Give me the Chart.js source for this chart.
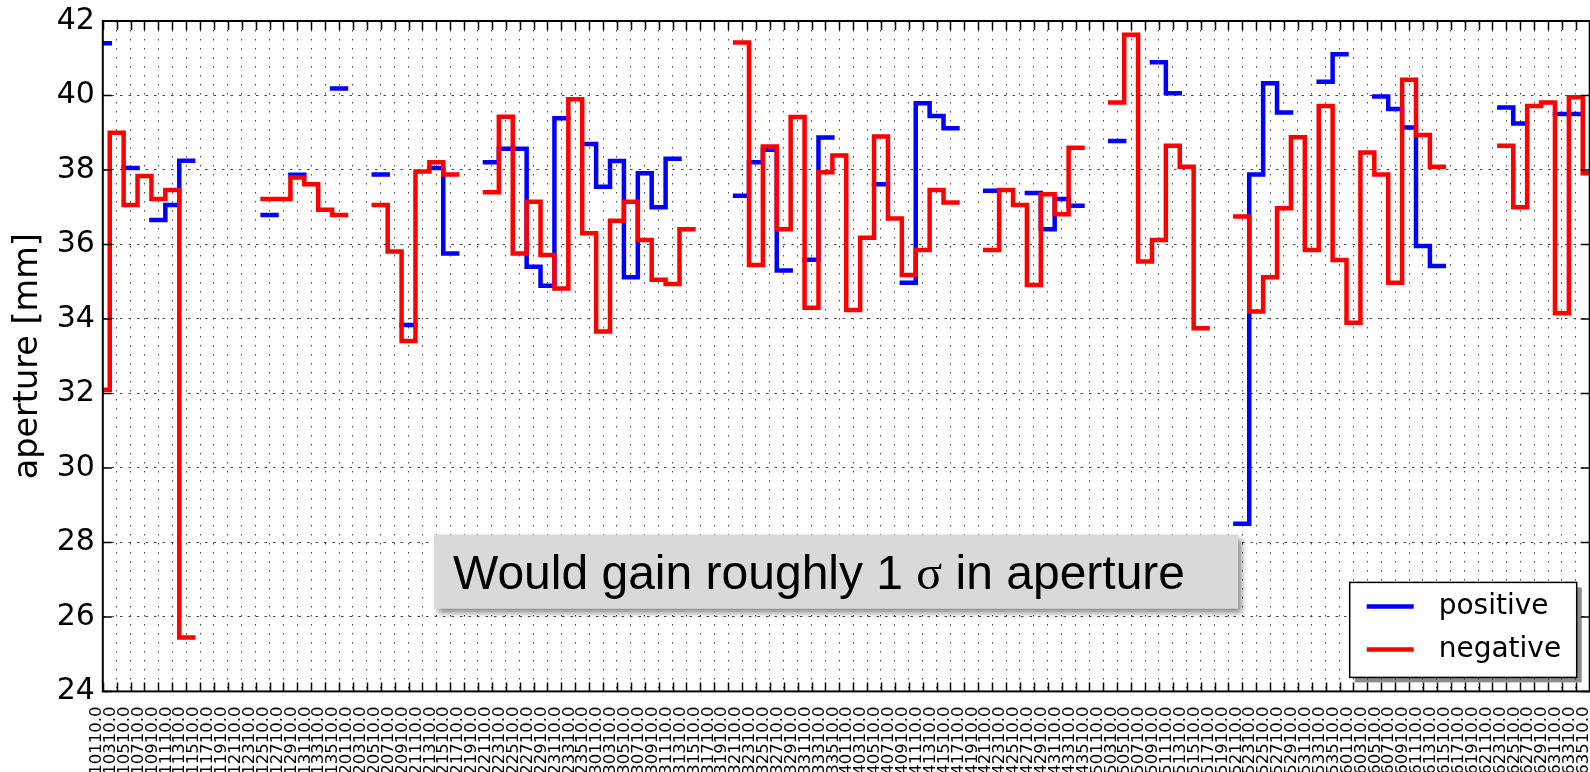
<!DOCTYPE html>
<html>
<head>
<meta charset="utf-8">
<title>aperture</title>
<script src="https://cdn.jsdelivr.net/npm/chart.js@4/dist/chart.umd.min.js"></script>
<style>
  html, body { margin: 0; padding: 0; background: #fff; overflow: hidden; }
  #wrap { position: absolute; left: 0; top: 0; width: 1600px; height: 800px; }
</style>
</head>
<body>
<div id="wrap"><canvas id="c" width="1600" height="800"></canvas></div>
<script>
// Cell labels along the ring (one tick per cell)
const cellLabels = [
  '10110.0','10310.0','10510.0','10710.0','10910.0','11110.0','11310.0','11510.0','11710.0',
  '11910.0','12110.0','12310.0','12510.0','12710.0','12910.0','13110.0','13310.0','13510.0',
  '20110.0','20310.0','20510.0','20710.0','20910.0','21110.0','21310.0','21510.0','21710.0',
  '21910.0','22110.0','22310.0','22510.0','22710.0','22910.0','23110.0','23310.0','23510.0',
  '30110.0','30310.0','30510.0','30710.0','30910.0','31110.0','31310.0','31510.0','31710.0',
  '31910.0','32110.0','32310.0','32510.0','32710.0','32910.0','33110.0','33310.0','33510.0',
  '40110.0','40310.0','40510.0','40710.0','40910.0','41110.0','41310.0','41510.0','41710.0',
  '41910.0','42110.0','42310.0','42510.0','42710.0','42910.0','43110.0','43310.0','43510.0',
  '50110.0','50310.0','50510.0','50710.0','50910.0','51110.0','51310.0','51510.0','51710.0',
  '51910.0','52110.0','52310.0','52510.0','52710.0','52910.0','53110.0','53310.0','53510.0',
  '60110.0','60310.0','60510.0','60710.0','60910.0','61110.0','61310.0','61510.0','61710.0',
  '61910.0','62110.0','62310.0','62510.0','62710.0','62910.0','63110.0','63310.0','63510.0'
];

// Aperture per cell [mm], positive side (null = no value)
const positive = [
  41.40, null, 38.05, null, 36.66, 37.06, 38.25, null, null,
  null, null, null, 36.79, null, 37.87, null, null, 40.19,
  null, null, 37.88, null, 33.84, null, 38.05, 35.76, null,
  null, 38.21, 38.57, 38.57, 35.40, 34.89, 39.39, null, 38.70,
  37.55, 38.24, 35.12, 37.91, 37.00, 38.30, null, null, null,
  null, 37.31, 38.21, 38.54, 35.30, null, 35.59, 38.87, null,
  null, null, 37.62, null, 34.97, 39.79, 39.45, 39.12, null,
  null, 37.44, null, null, 37.38, 36.41, 37.22, 37.04, null,
  null, 38.78, null, null, 40.89, 40.06, null, null, null,
  null, 28.50, 37.88, 40.33, 39.54, null, null, 40.37, 41.11,
  null, null, 39.97, 39.64, 39.14, 35.96, 35.42, null, null,
  null, null, 39.68, 39.25, null, null, 39.50, 39.50, null
];

// Aperture per cell [mm], negative side (null = no value)
const negative = [
  32.10, 39.00, 37.06, 37.84, 37.22, 37.46, 25.45, null, null,
  null, null, null, 37.22, 37.22, 37.80, 37.62, 36.93, 36.79,
  null, null, 37.06, 35.81, 33.41, 37.96, 38.21, 37.88, null,
  null, 37.40, 39.43, 35.76, 37.15, 35.72, 34.82, 39.90, 36.30,
  33.66, 36.64, 37.15, 36.12, 35.05, 34.94, 36.41, null, null,
  null, 41.42, 35.45, 38.63, 36.41, 39.42, 34.30, 37.94, 38.39,
  34.24, 36.18, 38.90, 36.70, 35.18, 35.85, 37.46, 37.13, null,
  null, 35.85, 37.46, 37.06, 34.91, 37.35, 36.81, 38.60, null,
  null, 39.81, 41.63, 35.54, 36.12, 38.65, 38.09, 33.75, null,
  null, 36.75, 34.20, 35.12, 36.97, 38.88, 35.85, 39.72, 35.58,
  33.90, 38.47, 37.88, 34.97, 40.42, 38.94, 38.09, null, null,
  null, null, 38.65, 37.00, 39.72, 39.81, 34.15, 39.95, 37.91
];

const seriesNames = ['positive', 'negative'];
const seriesColors = ['#0000ff', '#ff0000'];
const yTicks = [24, 26, 28, 30, 32, 34, 36, 38, 40, 42];
const noteText = ['Would gain roughly 1 ', '\u03c3', ' in aperture'];

// Mid-step outline: each value covers its cell from half a step before to half a step after
function midSteps(values) {
  const last = values.length - 1;
  const pts = [];
  values.forEach((v, i) => {
    if (v === null) { pts.push({ x: i, y: null }); return; }
    pts.push({ x: Math.max(0, i - 0.5), y: v });
    pts.push({ x: Math.min(last, i + 0.5), y: v });
  });
  return pts;
}

const TICK_LEN = 9;

// Axes frame with inward tick marks on all four sides
const framePlugin = {
  id: 'frame',
  afterDatasetsDraw(chart) {
    const { ctx, chartArea: a, scales: { x, y } } = chart;
    ctx.save();
    ctx.strokeStyle = '#000';
    ctx.lineWidth = 1.5;
    ctx.beginPath();
    x.ticks.forEach(t => {
      const px = Math.round(x.getPixelForValue(t.value)) + 0.5;
      ctx.moveTo(px, a.bottom); ctx.lineTo(px, a.bottom - TICK_LEN);
      ctx.moveTo(px, a.top); ctx.lineTo(px, a.top + TICK_LEN);
    });
    y.ticks.forEach(t => {
      const py = y.getPixelForValue(t.value);
      ctx.moveTo(a.left, py); ctx.lineTo(a.left + TICK_LEN, py);
      ctx.moveTo(a.right, py); ctx.lineTo(a.right - TICK_LEN, py);
    });
    ctx.stroke();
    ctx.lineWidth = 2;
    ctx.strokeRect(a.left, a.top, a.right - a.left, a.bottom - a.top);
    ctx.restore();
  }
};

// Legend box in the lower right corner of the axes
const legendBoxPlugin = {
  id: 'legendBox',
  afterDraw(chart) {
    const { ctx, chartArea: a } = chart;
    const w = 227, h = 95, inset = { right: 13, bottom: 14 };
    const left = a.right - inset.right - w;
    const top = a.bottom - inset.bottom - h;
    ctx.save();
    ctx.fillStyle = 'rgba(0,0,0,0.45)';
    ctx.fillRect(left + 5, top + 5, w, h);
    ctx.fillStyle = '#fff';
    ctx.fillRect(left, top, w, h);
    ctx.strokeStyle = '#000';
    ctx.lineWidth = 1.5;
    ctx.strokeRect(left, top, w, h);
    ctx.font = '28px "DejaVu Sans"';
    ctx.textBaseline = 'middle';
    ctx.fillStyle = '#000';
    chart.data.datasets.forEach((ds, k) => {
      const cy = top + 24 + k * 43;
      ctx.strokeStyle = ds.borderColor;
      ctx.lineWidth = ds.borderWidth;
      ctx.beginPath();
      ctx.moveTo(left + 17, cy);
      ctx.lineTo(left + 64, cy);
      ctx.stroke();
      ctx.fillText(ds.label, left + 89, cy);
    });
    ctx.restore();
  }
};

// Grey call-out box with a shadow, placed in data units
const notePlugin = {
  id: 'note',
  afterDraw(chart) {
    const { ctx, scales: { x, y } } = chart;
    const l = x.getPixelForValue(23.83), r = x.getPixelForValue(81.7);
    const t = y.getPixelForValue(28.21), b = y.getPixelForValue(26.22);
    ctx.save();
    ctx.shadowColor = 'rgba(0,0,0,0.45)';
    ctx.shadowBlur = 6;
    ctx.shadowOffsetX = 4;
    ctx.shadowOffsetY = 4;
    ctx.fillStyle = '#d9d9d9';
    ctx.fillRect(l, t, r - l, b - t);
    ctx.restore();
    ctx.save();
    ctx.fillStyle = '#000';
    ctx.textBaseline = 'alphabetic';
    let tx = l + 19;
    const base = t + 54;
    const fonts = ['48px "Liberation Sans"', '48px "Liberation Serif"', '48px "Liberation Sans"'];
    noteText.forEach((part, k) => {
      ctx.font = fonts[k];
      ctx.fillText(part, tx, base);
      tx += ctx.measureText(part).width;
    });
    ctx.restore();
  }
};

new Chart(document.getElementById('c'), {
  type: 'line',
  data: {
    datasets: [
      {
        label: seriesNames[0], data: midSteps(positive), borderColor: seriesColors[0],
        borderWidth: 4.5, order: 2
      },
      {
        label: seriesNames[1], data: midSteps(negative), borderColor: seriesColors[1],
        borderWidth: 4.5, order: 1
      }
    ]
  },
  options: {
    responsive: false,
    animation: false,
    events: [],
    layout: { padding: { left: 0, top: 21, right: 10.3, bottom: 0 } },
    elements: {
      point: { radius: 0 },
      line: { tension: 0, borderCapStyle: 'square', borderJoinStyle: 'miter', fill: false }
    },
    datasets: { line: { spanGaps: false, clip: 0 } },
    plugins: { legend: { display: false }, tooltip: { enabled: false } },
    scales: {
      x: {
        type: 'linear',
        min: 0,
        max: cellLabels.length - 1,
        afterFit(scale) {
          scale.height = 108.6;
          scale.paddingLeft = 0;
          scale.paddingRight = 0;
        },
        grid: { color: '#444', lineWidth: 1, drawTicks: false },
        border: { display: false, dash: [1.5, 7.5] },
        ticks: {
          stepSize: 1,
          autoSkip: false,
          maxRotation: 90,
          minRotation: 90,
          padding: 15,
          labelOffset: -6,
          color: '#000',
          font: { family: 'DejaVu Sans', size: 16.5 },
          callback: (v) => cellLabels[v]
        }
      },
      y: {
        min: yTicks[0],
        max: yTicks[yTicks.length - 1],
        afterFit(scale) {
          scale.width = 102.8;
          scale.paddingTop = 0;
          scale.paddingBottom = 0;
        },
        afterBuildTicks(scale) { scale.ticks = yTicks.map(v => ({ value: v })); },
        grid: { color: '#444', lineWidth: 1, drawTicks: false },
        border: { display: false, dash: [2.5, 6] },
        ticks: {
          padding: 8,
          color: '#000',
          font: { family: 'DejaVu Sans', size: 30 },
          callback: (v) => String(v)
        },
        title: {
          display: true,
          text: 'aperture [mm]',
          color: '#000',
          font: { family: 'DejaVu Sans', size: 33.5 },
          padding: { top: 8, bottom: 0 }
        }
      }
    }
  },
  plugins: [framePlugin, legendBoxPlugin, notePlugin]
});
</script>
</body>
</html>
